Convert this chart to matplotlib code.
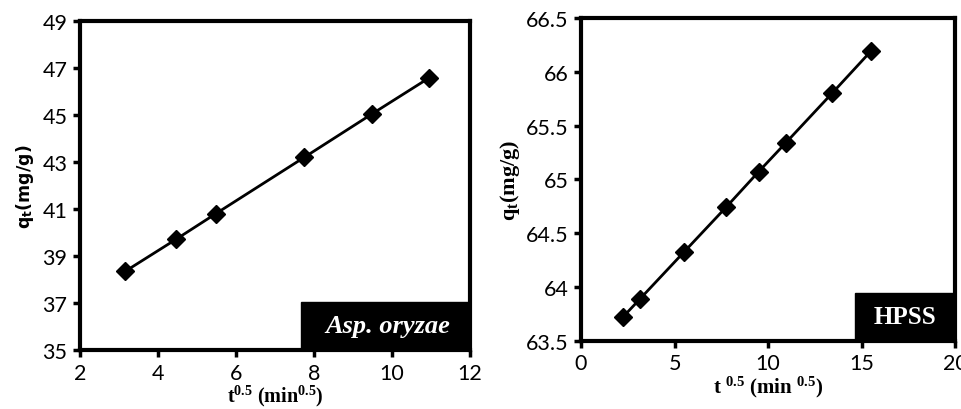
import matplotlib
matplotlib.use("Agg")
import matplotlib.pyplot as plt
from matplotlib.patches import Rectangle

# Asp. oryzae panel
t_asp = [3.16, 4.47, 5.48, 7.75, 9.49, 10.95]
q_asp = [38.35, 39.72, 40.8, 43.2, 45.05, 46.58]
# HPSS panel
t_hpss = [2.24, 3.16, 5.48, 7.75, 9.49, 10.95, 13.42, 15.49]
q_hpss = [63.72, 63.89, 64.32, 64.74, 65.07, 65.34, 65.80, 66.19]

asp_xticks = [2, 4, 6, 8, 10, 12]
asp_yticks = [35, 37, 39, 41, 43, 45, 47, 49]
hpss_xticks = [0, 5, 10, 15, 20]
hpss_yticks = [63.5, 64, 64.5, 65, 65.5, 66, 66.5]

plt.rcParams['mathtext.fontset'] = 'custom'
plt.rcParams['mathtext.rm'] = 'Liberation Serif:bold'
plt.rcParams['mathtext.bf'] = 'Liberation Serif:bold'
plt.rcParams['mathtext.default'] = 'bf'

fig = plt.figure(figsize=(9.62, 4.10), dpi=100)
ax1 = fig.add_axes([0.0832, 0.1439, 0.4054, 0.8024])
ax2 = fig.add_axes([0.604, 0.1666, 0.3888, 0.787])

tick_font = "Lato"
serif = "Liberation Serif"


def style(ax, xt, yt, ylim):
    ax.set_xlim(xt[0], xt[-1])
    ax.set_ylim(*ylim)
    ax.set_xticks(xt)
    ax.set_yticks(yt)
    ax.set_xticklabels([f"{v:g}" for v in xt], fontsize=15.5, fontfamily=tick_font)
    ax.set_yticklabels([f"{v:g}" for v in yt], fontsize=15.5, fontfamily=tick_font)
    for s in ax.spines.values():
        s.set_linewidth(3)
    ax.tick_params(direction='out', length=5, width=2.5, pad=4)


ax1.plot(t_asp, q_asp, color='black', lw=2, marker='D', markersize=9.5)
style(ax1, asp_xticks, asp_yticks, (35, 49))
ax1.set_xlabel('t$^{0.5}$ (min$^{0.5}$)', fontsize=14.5, fontweight='bold',
               fontfamily=serif, labelpad=0.5)
ax1.set_ylabel(r'q$_\mathregular{t}$(mg/g)', fontsize=12.5, fontweight='bold',
               fontfamily='DejaVu Sans', labelpad=5)
ax1.add_patch(Rectangle((0.567, 0), 0.433, 0.146, transform=ax1.transAxes,
                        color='black', zorder=3, clip_on=False))
ax1.text(0.79, 0.073, 'Asp. oryzae', transform=ax1.transAxes, color='white',
         fontsize=19, fontweight='bold', fontstyle='italic', fontfamily=serif,
         ha='center', va='center', zorder=4)

ax2.plot(t_hpss, q_hpss, color='black', lw=2, marker='D', markersize=9.5)
style(ax2, hpss_xticks, hpss_yticks, (63.5, 66.5))
ax2.set_xlabel('t $^{0.5}$ (min $^{0.5}$)', fontsize=15, fontweight='bold',
               fontfamily=serif, labelpad=0.5)
ax2.set_ylabel('q$_{t}$(mg/g)', fontsize=16, fontweight='bold',
               fontfamily=serif, labelpad=3)
ax2.add_patch(Rectangle((0.733, 0), 0.267, 0.148, transform=ax2.transAxes,
                        color='black', zorder=3, clip_on=False))
ax2.text(0.866, 0.074, 'HPSS', transform=ax2.transAxes, color='white',
         fontsize=18, fontweight='bold', fontfamily=serif,
         ha='center', va='center', zorder=4)

fig.savefig("out.png", dpi=100)
